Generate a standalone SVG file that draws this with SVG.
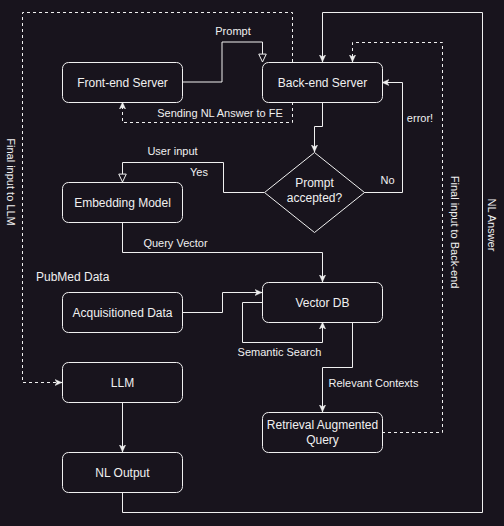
<svg xmlns="http://www.w3.org/2000/svg" width="504" height="526" viewBox="0 0 504 526">
<style>
.bg{fill:#18141d}
.node rect,.node path{fill:#18141d;stroke:#f0f0f0;stroke-width:1}
.node text{fill:#f0f0f0;font-family:"Liberation Sans",Arial,sans-serif;font-size:12px;text-anchor:middle}
.edges path{fill:none;stroke:#f0f0f0;stroke-width:1}
.edges .dash{stroke-dasharray:3 3}
.lbl{fill:#f0f0f0;font-family:"Liberation Sans",Arial,sans-serif;font-size:11px;text-anchor:middle}
.free{fill:#f0f0f0;font-family:"Liberation Sans",Arial,sans-serif;font-size:12px}
</style>
<defs>
<marker id="arr" viewBox="0 0 10 10" refX="9" refY="5" markerWidth="8" markerHeight="8" markerUnits="userSpaceOnUse" orient="auto">
<path d="M0,1 L9,5 L0,9 L2.5,5 Z" fill="#f0f0f0" stroke="#f0f0f0" stroke-width="0.5"/>
</marker>
<marker id="tri" viewBox="0 0 12 12" refX="10.5" refY="6" markerWidth="10" markerHeight="10" markerUnits="userSpaceOnUse" orient="auto">
<path d="M1,1.5 L10.5,6 L1,10.5 Z" fill="#18141d" stroke="#f0f0f0" stroke-width="1.2"/>
</marker>
</defs>
<rect class="bg" x="0" y="0" width="504" height="526"/>

<g id="connectors" class="edges">
<path d="M182,82 H222 V42 H262.5 V62" marker-end="url(#tri)"/>
<path class="dash" d="M292.5,62 V12.5 H22.5 V382.5 H62" marker-end="url(#arr)"/>
<path class="dash" d="M292.5,102 V122.5 H122.5 V102" marker-end="url(#arr)"/>
<path d="M322.5,102 V126.5 H314.5 V152" marker-end="url(#arr)"/>
<path d="M364,192.5 H402.5 V82.5 H382" marker-end="url(#arr)"/>
<path d="M264,192.5 H223.5 V162.5 H122.5 V182" marker-end="url(#tri)"/>
<path d="M122.5,222 V252.5 H322.5 V282" marker-end="url(#arr)"/>
<path d="M182,312.5 H222.5 V292.5 H262" marker-end="url(#arr)"/>
<path d="M262,302.5 H242.5 V342.5 H322.5 V322" marker-end="url(#arr)"/>
<path d="M352.5,322 V367.5 H322.5 V412" marker-end="url(#arr)"/>
<path class="dash" d="M382,432.5 H442.5 V42.5 H352.5 V62" marker-end="url(#arr)"/>
<path d="M122.5,492 V512.5 H482.5 V12.5 H322.5 V62" marker-end="url(#arr)"/>
<path d="M122.5,402 V452" marker-end="url(#arr)"/>
<text class="lbl" x="233" y="35">Prompt</text>
<text class="lbl" x="220" y="117">Sending NL Answer to FE</text>
<text class="lbl" x="420" y="122">error!</text>
<text class="lbl" x="172.5" y="155">User input</text>
<text class="lbl" x="199" y="176">Yes</text>
<text class="lbl" x="387.5" y="184">No</text>
<text class="lbl" x="175.5" y="246.5">Query Vector</text>
<text class="lbl" x="279.5" y="356">Semantic Search</text>
<text class="lbl" x="373.5" y="387">Relevant Contexts</text>
<text class="lbl" transform="translate(11,182) rotate(90)" x="0" y="4">Final input to LLM</text>
<text class="lbl" transform="translate(455,232) rotate(90)" x="0" y="4">Final input to Back-end</text>
<text class="lbl" transform="translate(491.5,225) rotate(90)" x="0" y="4">NL Answer</text>
</g>

<text class="free" x="36" y="281">PubMed Data</text>

<g id="frontend" class="node">
<rect x="62.5" y="62.5" width="120" height="40" rx="6"/>
<text x="122.5" y="86.5">Front-end Server</text>
</g>
<g id="backend" class="node">
<rect x="262.5" y="62.5" width="120" height="40" rx="6"/>
<text x="322.5" y="86.5">Back-end Server</text>
</g>
<g id="decision" class="node">
<path d="M314.5,152.5 L364.5,192.5 L314.5,232.5 L264.5,192.5 Z"/>
<text x="314.5" y="187">Prompt</text>
<text x="314.5" y="201.5">accepted?</text>
</g>
<g id="embedding" class="node">
<rect x="62.5" y="182.5" width="120" height="40" rx="6"/>
<text x="122.5" y="206.5">Embedding Model</text>
</g>
<g id="acquisitioned" class="node">
<rect x="62.5" y="292.5" width="120" height="40" rx="6"/>
<text x="122.5" y="316.5">Acquisitioned Data</text>
</g>
<g id="vectordb" class="node">
<rect x="262.5" y="282.5" width="120" height="40" rx="6"/>
<text x="322.5" y="306.5">Vector DB</text>
</g>
<g id="llm" class="node">
<rect x="62.5" y="362.5" width="120" height="40" rx="6"/>
<text x="122.5" y="386.5">LLM</text>
</g>
<g id="raq" class="node">
<rect x="262.5" y="412.5" width="120" height="40" rx="6"/>
<text x="322.5" y="428.5">Retrieval Augmented</text>
<text x="322.5" y="443.5">Query</text>
</g>
<g id="nloutput" class="node">
<rect x="62.5" y="452.5" width="120" height="40" rx="6"/>
<text x="122.5" y="476.5">NL Output</text>
</g>
</svg>
